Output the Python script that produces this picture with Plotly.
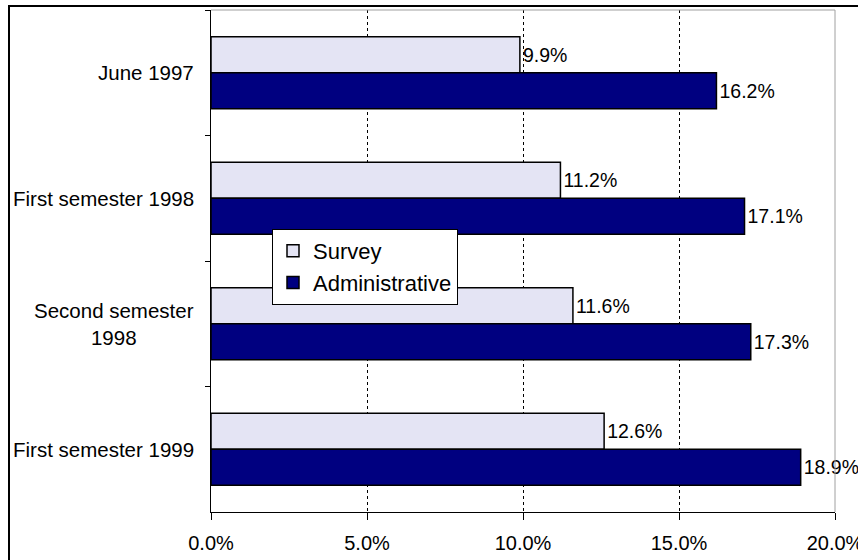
import plotly.graph_objects as go

categories = ["June 1997", "First semester 1998", "Second semester<br>1998", "First semester 1999"]
survey = [9.9, 11.2, 11.6, 12.6]
administrative = [16.2, 17.1, 17.3, 18.9]
x_ticks = [0, 5, 10, 15, 20]

FONT = "Liberation Sans, Arial, sans-serif"

fig = go.Figure()
fig.add_trace(go.Bar(
    y=categories, x=survey, orientation="h", name="Survey",
    marker=dict(color="#E4E4F4", line=dict(color="black", width=1.5)),
    text=[f"{v:.1f}%" for v in survey], textposition="outside",
    textfont=dict(size=19.5, color="black", family=FONT), cliponaxis=False,
))
fig.add_trace(go.Bar(
    y=categories, x=administrative, orientation="h", name="Administrative",
    marker=dict(color="#000080", line=dict(color="black", width=1.5)),
    text=[f"{v:.1f}%" for v in administrative], textposition="outside",
    textfont=dict(size=19.5, color="black", family=FONT), cliponaxis=False,
))

annotations = []
for c in categories:
    annotations.append(dict(
        x=-15 / 624, xref="paper", y=c, yref="y", text=c, showarrow=False,
        xanchor="right", yanchor="middle", align="center",
        font=dict(size=20.5, color="black", family=FONT),
    ))

shapes = [
    # plot-area top and right border (grey)
    dict(type="line", xref="paper", yref="paper", x0=0, x1=1, y0=1, y1=1,
         line=dict(color="#A0A0A0", width=1), layer="above"),
    dict(type="line", xref="paper", yref="paper", x0=1, x1=1, y0=0, y1=1,
         line=dict(color="#A0A0A0", width=1), layer="above"),
    # outer chart frame
    dict(type="rect", xref="paper", yref="paper",
         x0=(9 - 211) / 624, x1=1 + 60 / 624, y0=-100 / 502, y1=1 + 4 / 502,
         line=dict(color="black", width=2), fillcolor="rgba(0,0,0,0)", layer="above"),
]

fig.update_layout(
    width=858, height=560,
    margin=dict(l=211, r=23, t=10, b=48, autoexpand=False),
    paper_bgcolor="white", plot_bgcolor="white",
    barmode="group", bargap=0.426, bargroupgap=0,
    font=dict(family=FONT, size=20, color="black"),
    showlegend=True,
    legend=dict(
        x=61 / 624, y=1 - 219 / 502, xanchor="left", yanchor="top",
        bgcolor="white", bordercolor="black", borderwidth=1,
        font=dict(size=22, family=FONT, color="black"),
        itemwidth=30, tracegroupgap=0,
    ),
    xaxis=dict(
        range=[0, 20], tickvals=x_ticks, ticktext=[f"{v:.1f}%" for v in x_ticks],
        showgrid=True, gridcolor="black", griddash="dot", gridwidth=1,
        showline=True, linecolor="black", linewidth=1,
        ticks="outside", ticklen=7, tickcolor="black",
        tickfont=dict(size=20, family=FONT), zeroline=False,
        ticklabelstandoff=6, ticklabeloverflow="allow", automargin=False,
    ),
    yaxis=dict(
        autorange="reversed", showticklabels=False,
        showline=True, linecolor="black", linewidth=1,
        ticks="outside", ticklen=5, tickcolor="black", tickson="boundaries",
        showgrid=False, zeroline=False, automargin=False,
    ),
    annotations=annotations,
    shapes=shapes,
)

fig.write_html(
    "out.html",
    config={"displayModeBar": False},
    post_script="document.body.style.margin='0';document.body.style.overflow='hidden';",
)
